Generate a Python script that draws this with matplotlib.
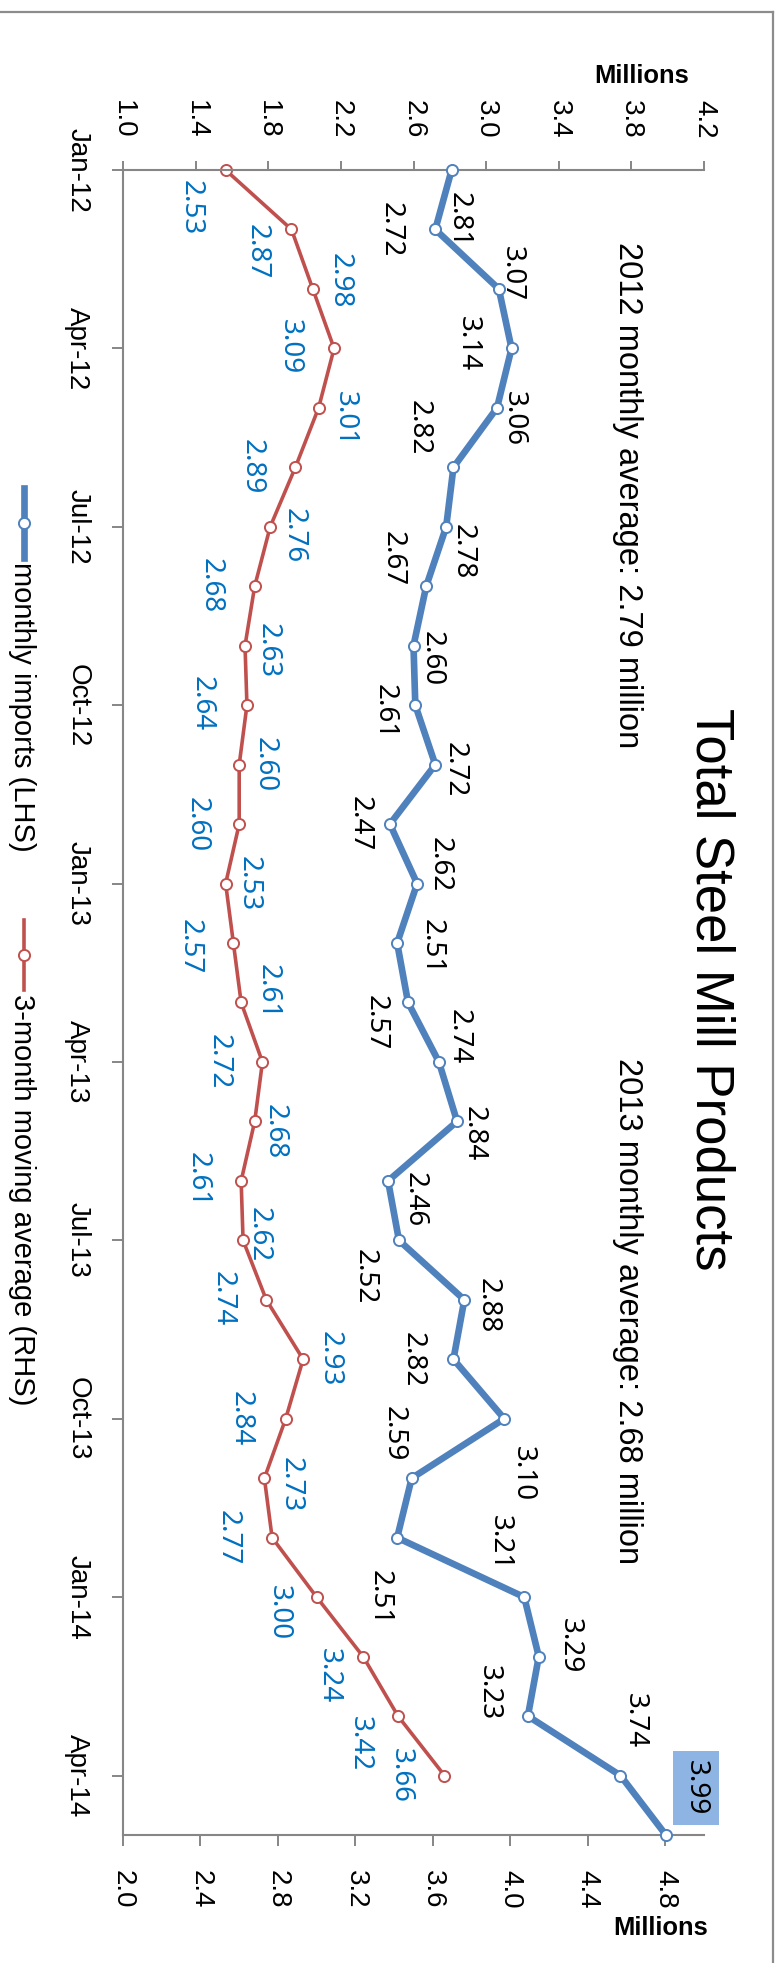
import numpy as np
import matplotlib
matplotlib.use("Agg")
import matplotlib.pyplot as plt
from matplotlib.lines import Line2D

# ---------------- data ----------------
months = ['Jan-12', 'Feb-12', 'Mar-12', 'Apr-12', 'May-12', 'Jun-12', 'Jul-12', 'Aug-12',
          'Sep-12', 'Oct-12', 'Nov-12', 'Dec-12', 'Jan-13', 'Feb-13', 'Mar-13', 'Apr-13',
          'May-13', 'Jun-13', 'Jul-13', 'Aug-13', 'Sep-13', 'Oct-13', 'Nov-13', 'Dec-13',
          'Jan-14', 'Feb-14', 'Mar-14', 'Apr-14', 'May-14']
monthly_imports = [2.81, 2.72, 3.07, 3.14, 3.06, 2.82, 2.78, 2.67, 2.60, 2.61, 2.72, 2.47,
                   2.62, 2.51, 2.57, 2.74, 2.84, 2.46, 2.52, 2.88, 2.82, 3.10, 2.59, 2.51,
                   3.21, 3.29, 3.23, 3.74, 3.99]
moving_avg = [2.53, 2.87, 2.98, 3.09, 3.01, 2.89, 2.76, 2.68, 2.63, 2.64, 2.60, 2.60,
              2.53, 2.57, 2.61, 2.72, 2.68, 2.61, 2.62, 2.74, 2.93, 2.84, 2.73, 2.77,
              3.00, 3.24, 3.42, 3.66]
lhs_ticks = [1.0, 1.4, 1.8, 2.2, 2.6, 3.0, 3.4, 3.8, 4.2]
rhs_ticks = [2.0, 2.4, 2.8, 3.2, 3.6, 4.0, 4.4, 4.8]
title = 'Total Steel Mill Products'
note_2012 = '2012 monthly average: 2.79 million'
note_2013 = '2013 monthly average: 2.68 million'
legend_labels = ['monthly imports (LHS)', '3-month moving average (RHS)']

# label placement (offset of label centre from point, in image pixels, +dy = down)
blue_off = [(10, 50), (-42, 0), (16, -15), (-41, -5), (20, 11), (-32, -40), (19, 25), (-31, -28),
            (21, 13), (-28, 6), (22, 5), (-27, 0), (25, -19), (37, 4), (-29, 20), (23, -25),
            (20, 12), (30, 19), (-31, 36), (26, 6), (-38, 0), (22, 55), (-15, -45), (-15, 60),
            (-21, -55), (34, -11), (-36, -23), (17, -55), (33, -47)]
red_off = [(-32, 38), (-32, 22), (30, -8), (-41, -2), (29, 11), (-41, -1), (26, 9), (-41, -1),
           (26, 5), (-42, -2), (28, 0), (-40, 0), (26, 0), (-41, 4), (29, -11), (-41, 0),
           (23, 10), (-41, -1), (19, -6), (-41, -1), (30, -1), (-42, 0), (29, 6), (-41, 0),
           (-35, 15), (-31, 19), (-35, 28), (-41, 0)]

BLUE = '#4F81BD'
RED = '#C0504D'
LBLUE = '#0070C0'
GRAY = '#868686'
SANS = ['Liberation Sans', 'DejaVu Sans']
LBL = ['Noto Sans', 'DejaVu Sans']

W, H = 779, 1963
fig = plt.figure(figsize=(W / 100, H / 100), dpi=100)
fig.patch.set_facecolor('white')


def fx(px):
    return px / W


def fy(py):
    return 1 - py / H


L, R, T, B = 123, 704, 170, 1835
ax = fig.add_axes([fx(L), fy(B), (R - L) / W, (B - T) / H])
axb = ax.twiny()

idx_b = np.arange(len(monthly_imports))
idx_r = np.arange(len(moving_avg))

MS, MEW = 8.0, 1.4
LW_B, LW_R = 4.8, 2.6

# red series on bottom axis (RHS scale)
ax.plot(moving_avg, idx_r, color=RED, lw=LW_R, marker='o', ms=MS, mfc='white',
        mec=RED, mew=MEW, clip_on=False, zorder=5)
ax.set_xlim(2.0, 5.0)
ax.set_ylim(len(months) - 1, 0)

# blue series on top axis (LHS scale)
axb.plot(monthly_imports, idx_b, color=BLUE, lw=LW_B, marker='o', ms=MS, mfc='white',
         mec=BLUE, mew=MEW, clip_on=False, zorder=5)
axb.set_xlim(1.0, 4.2)
axb.set_ylim(len(months) - 1, 0)

# axes styling
for s in ['right', 'top']:
    ax.spines[s].set_visible(False)
for s in ['right', 'left', 'bottom']:
    axb.spines[s].set_visible(False)
for a, s in [(ax, 'left'), (ax, 'bottom'), (axb, 'top')]:
    a.spines[s].set_color(GRAY)
    a.spines[s].set_linewidth(1.5)

ax.set_xticks(rhs_ticks)
ax.set_xticklabels([f'{v:.1f}' for v in rhs_ticks], rotation=-90, family=SANS)
ax.tick_params(axis='x', direction='out', length=8, width=1.4, color=GRAY,
               labelsize=20, pad=17)
ax.set_yticks(np.arange(0, len(months), 3))
ax.set_yticklabels(months[::3], rotation=-90, va='center', ha='right', family=SANS)
ax.tick_params(axis='y', direction='out', length=8, width=1.4, color=GRAY,
               labelsize=20, pad=15.5)

axb.set_xticks(lhs_ticks)
axb.set_xticklabels([f'{v:.1f}' for v in lhs_ticks], rotation=-90, family=SANS)
axb.tick_params(axis='x', direction='out', length=6.5, width=1.4, color=GRAY,
                labelsize=20, pad=16.3)

# data labels
for i, (v, (dx, dy)) in enumerate(zip(monthly_imports, blue_off)):
    kw = {}
    if i == len(monthly_imports) - 1:
        kw['bbox'] = dict(boxstyle='square,pad=0.33', fc='#8DB4E2', ec='none')
    axb.annotate(f'{v:.2f}', xy=(v, i), xytext=(dx - 3, -dy), textcoords='offset pixels',
                 rotation=-90, ha='center', va='center', fontsize=20, family=LBL,
                 color='black', zorder=6, annotation_clip=False, **kw)
for i, (v, (dx, dy)) in enumerate(zip(moving_avg, red_off)):
    ax.annotate(f'{v:.2f}', xy=(v, i), xytext=(dx - 3, -dy), textcoords='offset pixels',
                rotation=-90, ha='center', va='center', fontsize=20, family=LBL,
                color=LBLUE, zorder=6, annotation_clip=False)

# title and notes
fig.text(fx(710), fy(989), title, rotation=-90, ha='center', va='center',
         fontsize=38, family=SANS)
fig.text(fx(628), fy(495), note_2012, rotation=-90, ha='center', va='center',
         fontsize=23.5, family=SANS)
fig.text(fx(628), fy(1311), note_2013, rotation=-90, ha='center', va='center',
         fontsize=23.5, family=SANS)

# axis unit labels
fig.text(fx(641.5), fy(83.3), 'Millions', ha='center', va='baseline', fontsize=18.4,
         weight='bold', family=SANS)
fig.text(fx(660.5), fy(1934.7), 'Millions', ha='center', va='baseline', fontsize=18.4,
         weight='bold', family=SANS)

# legend (rotated)
for (col, lw, y0, y1, ytxt, lab) in [(BLUE, LW_B, 488, 558, 562, legend_labels[0]),
                                      (RED, LW_R, 920, 990, 994, legend_labels[1])]:
    fig.add_artist(Line2D([fx(24), fx(24)], [fy(y0), fy(y1)], color=col, lw=lw,
                          transform=fig.transFigure))
    fig.add_artist(Line2D([fx(24)], [fy((y0 + y1) / 2)], color=col, marker='o', ms=MS,
                          mfc='white', mec=col, mew=MEW, transform=fig.transFigure))
    fig.text(fx(22), fy(ytxt), lab, rotation=-90, ha='center', va='top', fontsize=21,
             family=SANS)

# chart border (top and right)
fig.add_artist(Line2D([0, fx(772.7)], [fy(11.7), fy(11.7)], color='#8C8C8C', lw=1.6,
                      transform=fig.transFigure))
fig.add_artist(Line2D([fx(772.7), fx(772.7)], [fy(11.7), 0], color='#8C8C8C', lw=1.6,
                      transform=fig.transFigure))

fig.savefig('out.png', dpi=100)
